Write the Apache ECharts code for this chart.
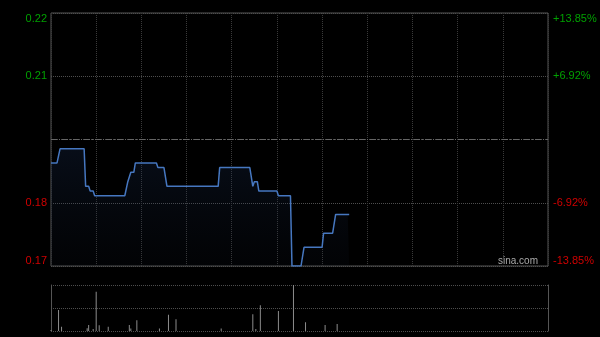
<!DOCTYPE html>
<html>
<head>
<meta charset="utf-8">
<script src="https://cdn.jsdelivr.net/npm/echarts@6/dist/echarts.min.js"></script>
<style>
html,body{margin:0;padding:0;background:#000;}
#c{width:600px;height:337px;}
</style>
</head>
<body>
<div id="c"></div>
<script>
// Previous close and axis range
var prevClose = 0.195;
var priceMin = 0.168;
var priceMax = 0.222;
var priceStep = 0.0135;
var totalMinutes = 331;

// Intraday price per minute (index from session start)
var prices = [
  0.190,0.190,0.190,0.190,0.190,0.190,
  0.193,0.193,0.193,0.193,0.193,0.193,0.193,0.193,0.193,0.193,0.193,0.193,0.193,0.193,0.193,0.193,0.193,
  0.185,0.185,0.185,
  0.184,0.184,0.184,
  0.183,0.183,0.183,0.183,0.183,0.183,0.183,0.183,0.183,0.183,0.183,0.183,0.183,0.183,0.183,0.183,0.183,0.183,0.183,0.183,0.183,0.183,
  0.186,0.187,0.188,0.188,0.188,
  0.190,0.190,0.190,0.190,0.190,0.190,0.190,0.190,0.190,0.190,0.190,0.190,0.190,0.190,0.190,
  0.189,0.189,0.189,0.189,0.189,0.189,
  0.185,0.185,0.185,0.185,0.185,0.185,0.185,0.185,0.185,0.185,0.185,0.185,0.185,0.185,0.185,0.185,0.185,0.185,0.185,0.185,0.185,0.185,0.185,0.185,0.185,0.185,0.185,0.185,0.185,0.185,0.185,0.185,0.185,0.185,0.185,
  0.189,0.189,0.189,0.189,0.189,0.189,0.189,0.189,0.189,0.189,0.189,0.189,0.189,0.189,0.189,0.189,0.189,0.189,0.189,0.189,0.189,0.189,
  0.185,
  0.186,0.186,0.186,
  0.184,0.184,0.184,0.184,0.184,0.184,0.184,0.184,0.184,0.184,0.184,0.184,0.184,
  0.183,0.183,0.183,0.183,0.183,0.183,0.183,0.183,0.183,
  0.168,0.168,0.168,0.168,0.168,0.168,0.168,0.168,
  0.172,0.172,0.172,0.172,0.172,0.172,0.172,0.172,0.172,0.172,0.172,0.172,0.172,
  0.175,0.175,0.175,0.175,0.175,0.175,0.175,0.175,
  0.179,0.179,0.179,0.179,0.179,0.179,0.179,0.179,0.179,0.179
];

// Volume per minute (thousand shares)
var volumes = [
  10,0,0,0,0,210,0,43,0,0, 0,0,0,0,0,0,0,0,0,0,
  0,0,0,0,27,60,0,0,20,0, 393,0,57,0,0,0,0,0,43,0,
  0,0,0,0,0,0,0,0,0,0, 0,0,60,24,0,0,0,107,0,0,
  0,0,0,0,0,0,0,0,0,0, 0,0,24,0,0,0,0,0,163,0,
  0,0,0,117,0,0,0,0,0,0, 0,0,0,0,0,0,0,0,0,0,
  0,0,0,0,0,0,0,0,0,0, 0,0,0,24,0,0,0,0,0,0,
  0,0,0,0,0,0,0,0,0,0, 0,0,0,0,167,0,20,0,0,257,
  0,0,0,0,0,0,0,0,0,0, 0,200,0,0,0,0,0,0,0,0,
  0,460,0,0,0,0,0,0,0,87, 0,0,0,0,0,0,0,0,0,0,
  0,0,60,0,0,0,0,0,0,0, 70,0,0,0,0,0,0,0,0
];
var volumeMax = 460;

var minutes = [];
for (var i = 0; i < totalMinutes; i++) minutes.push(String(i));

var green = '#00a000', red = '#d00000';
var chart = echarts.init(document.getElementById('c'), null, {renderer: 'canvas'});
var dottedH = {color: '#4e4e4e', type: [1, 1], width: 1};
var dottedV = {color: '#3a3a3a', type: [1, 1], width: 1};

chart.setOption({
  backgroundColor: '#000',
  animation: false,
  grid: [
    {left: 51, right: 52, top: 13, height: 253, show: true, borderColor: '#555', borderWidth: 1, backgroundColor: 'transparent'},
    {left: 51, right: 52, top: 285, height: 46, show: false}
  ],
  xAxis: [
    {type: 'category', gridIndex: 0, data: minutes, boundaryGap: false,
     axisLine: {show: false}, axisTick: {show: false}, axisLabel: {show: false},
     splitLine: {show: true, interval: 29, lineStyle: dottedV}},
    {type: 'category', gridIndex: 1, data: minutes, boundaryGap: false,
     axisLine: {show: false}, axisTick: {show: false}, axisLabel: {show: false},
     splitLine: {show: false}}
  ],
  yAxis: [
    {type: 'value', gridIndex: 0, min: priceMin, max: priceMax, interval: priceStep,
     axisLine: {show: false}, axisTick: {show: false},
     splitLine: {show: true, lineStyle: dottedH},
     axisLabel: {
       margin: 4, fontSize: 11, fontFamily: 'Liberation Sans, Arial, sans-serif',
       verticalAlignMinLabel: 'bottom', verticalAlignMaxLabel: 'top',
       formatter: function (v) {
         if (Math.abs(v - prevClose) < 1e-6) return '';
         return (v > prevClose ? '{u|' : '{d|') + v.toFixed(2) + '}';
       },
       rich: {u: {color: green, fontSize: 11}, d: {color: red, fontSize: 11}}
     }},
    {type: 'value', gridIndex: 0, position: 'right', min: priceMin, max: priceMax, interval: priceStep,
     axisLine: {show: false}, axisTick: {show: false}, splitLine: {show: false},
     axisLabel: {
       margin: 5, fontSize: 11, fontFamily: 'Liberation Sans, Arial, sans-serif',
       verticalAlignMinLabel: 'bottom', verticalAlignMaxLabel: 'top',
       formatter: function (v) {
         if (Math.abs(v - prevClose) < 1e-6) return '';
         var p = (v - prevClose) / prevClose * 100;
         return p > 0 ? '{u|+' + p.toFixed(2) + '%}' : '{d|' + p.toFixed(2) + '%}';
       },
       rich: {u: {color: green, fontSize: 11}, d: {color: red, fontSize: 11}}
     }},
    {type: 'value', gridIndex: 1, min: 0, max: volumeMax, interval: volumeMax / 2,
     axisLine: {show: true, lineStyle: {color: '#555'}}, axisTick: {show: false}, axisLabel: {show: false},
     splitLine: {show: true, lineStyle: dottedH}},
    {type: 'value', gridIndex: 1, position: 'right', min: 0, max: volumeMax, interval: volumeMax / 2,
     axisLine: {show: true, lineStyle: {color: '#555'}}, axisTick: {show: false}, axisLabel: {show: false},
     splitLine: {show: false}}
  ],
  series: [
    {type: 'line', xAxisIndex: 0, yAxisIndex: 0, data: prices, showSymbol: false, symbol: 'none',
     lineStyle: {color: '#4677c0', width: 1.5},
     areaStyle: {origin: 'start', color: new echarts.graphic.LinearGradient(0, 0, 0, 1, [
       {offset: 0, color: 'rgba(30,55,100,0.35)'},
       {offset: 1, color: 'rgba(20,30,50,0.15)'}
     ])},
     markLine: {silent: true, symbol: 'none', precision: 6, label: {show: false},
       lineStyle: {color: '#666', type: [6, 2, 1, 2], width: 1},
       data: [{yAxis: prevClose}]}
    },
    {type: 'bar', xAxisIndex: 1, yAxisIndex: 2, data: volumes, barWidth: 1,
     itemStyle: {color: '#8c8c8c'}}
  ],
  graphic: [
    {type: 'text', right: 62, top: 256, style: {text: 'sina.com', fill: '#aaa', fontSize: 10, fontFamily: 'Liberation Sans, Arial, sans-serif'}}
  ]
});
</script>
</body>
</html>
